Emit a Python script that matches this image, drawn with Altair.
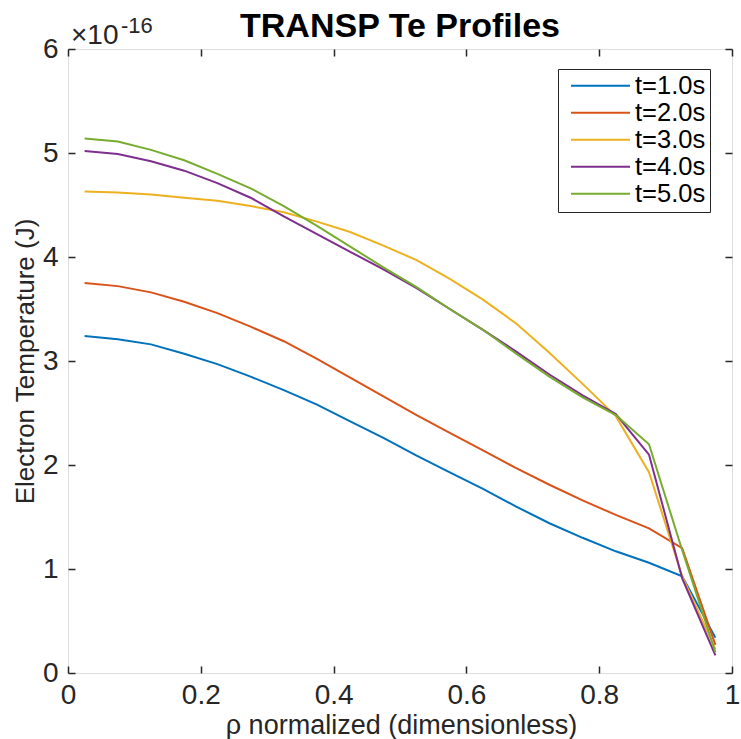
import altair as alt
import pandas as pd

rho = [0.025, 0.075, 0.125, 0.175, 0.225, 0.275, 0.325, 0.375, 0.425, 0.475,
       0.525, 0.575, 0.625, 0.675, 0.725, 0.775, 0.825, 0.875, 0.925, 0.975]

te_t1 = [3.24, 3.21, 3.16, 3.07, 2.97, 2.85, 2.72, 2.58, 2.42, 2.26,
         2.09, 1.93, 1.77, 1.60, 1.44, 1.30, 1.17, 1.06, 0.93, 0.34]
te_t2 = [3.75, 3.72, 3.66, 3.57, 3.46, 3.33, 3.19, 3.02, 2.84, 2.66,
         2.48, 2.31, 2.14, 1.97, 1.81, 1.66, 1.52, 1.39, 1.20, 0.27]
te_t3 = [4.63, 4.62, 4.60, 4.57, 4.54, 4.49, 4.43, 4.34, 4.24, 4.11,
         3.97, 3.79, 3.59, 3.36, 3.08, 2.78, 2.47, 1.93, 0.93, 0.23]
te_t4 = [5.02, 4.99, 4.92, 4.83, 4.71, 4.57, 4.39, 4.22, 4.05, 3.88,
         3.70, 3.50, 3.30, 3.09, 2.87, 2.67, 2.49, 2.10, 0.91, 0.17]
te_t5 = [5.14, 5.11, 5.03, 4.93, 4.80, 4.66, 4.49, 4.30, 4.10, 3.90,
         3.71, 3.50, 3.30, 3.07, 2.85, 2.65, 2.48, 2.20, 1.18, 0.20]

series_names = ["t=1.0s", "t=2.0s", "t=3.0s", "t=4.0s", "t=5.0s"]
series_colors = ["#0072BD", "#D95319", "#EDB120", "#7E2F8E", "#77AC30"]
x_ticks = [0, 0.2, 0.4, 0.6, 0.8, 1]
y_ticks = [0, 1, 2, 3, 4, 5, 6]
chart_title = ["TRANSP Te Profiles"]
exponent_base = ["×10"]
exponent_power = ["-16"]

rows = []
for name, vals in zip(series_names, [te_t1, te_t2, te_t3, te_t4, te_t5]):
    for r, v in zip(rho, vals):
        rows.append({"rho": r, "te": v, "series": name})
df = pd.DataFrame(rows)

FONT = "Liberation Sans"
DARK = "#262626"

xscale = alt.Scale(domain=[0, 1], nice=False, zero=False)
yscale = alt.Scale(domain=[0, 6], nice=False, zero=False)

base = alt.Chart(df)

lines = base.mark_line(strokeWidth=2).encode(
    x=alt.X("rho:Q", scale=xscale, axis=alt.Axis(
        orient="bottom", values=x_ticks, format="~g", ticks=False, tickSize=0,
        domain=False, grid=False, labelFlush=False, labelPadding=8,
        labelFontSize=28, labelColor=DARK, labelFont=FONT,
        title="ρ normalized (dimensionless)", titleFontSize=27, titleFont=FONT,
        titleFontWeight="normal", titleColor=DARK, titleX=333, titleY=60,
        titleBaseline="alphabetic", titleAlign="center")),
    y=alt.Y("te:Q", scale=yscale, axis=alt.Axis(
        orient="left", values=y_ticks, format="d", ticks=False, tickSize=0,
        domain=False, grid=False, labelFlush=False, labelPadding=10,
        labelFontSize=28, labelColor=DARK, labelFont=FONT,
        title="Electron Temperature (J)", titleFontSize=26, titleFont=FONT,
        titleFontWeight="normal", titleColor=DARK, titleX=-35, titleY=312,
        titleAngle=270, titleBaseline="alphabetic", titleAlign="center")),
    color=alt.Color("series:N", scale=alt.Scale(domain=series_names, range=series_colors),
                    legend=alt.Legend(
                        title=None, orient="none", legendX=490, legendY=20,
                        padding=4, strokeColor=DARK, fillColor="white",
                        symbolType="stroke", symbolSize=3481, symbolStrokeWidth=2,
                        clipHeight=25.3, rowPadding=-0.3, symbolOffset=8,
                        labelOffset=4, labelFontSize=25.5, labelFont=FONT,
                        labelColor="black", labelLimit=200)),
)

tick_axis = dict(labels=False, domain=False, grid=False, title=None,
                 tickSize=7, tickWidth=1.5, tickColor=DARK, offset=-7)

ticks_a = base.mark_line(opacity=0).encode(
    x=alt.X("rho:Q", scale=xscale, axis=alt.Axis(orient="bottom", values=x_ticks, **tick_axis)),
    y=alt.Y("te:Q", scale=yscale, axis=alt.Axis(orient="left", values=y_ticks, **tick_axis)),
)
ticks_b = base.mark_line(opacity=0).encode(
    x=alt.X("rho:Q", scale=xscale, axis=alt.Axis(orient="top", values=x_ticks, **tick_axis)),
    y=alt.Y("te:Q", scale=yscale, axis=alt.Axis(orient="right", values=y_ticks, **tick_axis)),
)

title_mark = alt.Chart(pd.DataFrame({"t": chart_title})).mark_text(
    align="center", baseline="alphabetic", fontSize=34, font=FONT,
    fontWeight="bold", color="black"
).encode(x=alt.value(332), y=alt.value(-12), text="t:N")

exp_main = alt.Chart(pd.DataFrame({"t": exponent_base})).mark_text(
    align="left", baseline="alphabetic", fontSize=28, font=FONT, color=DARK
).encode(x=alt.value(3), y=alt.value(-5), text="t:N")
exp_sup = alt.Chart(pd.DataFrame({"t": exponent_power})).mark_text(
    align="left", baseline="alphabetic", fontSize=22, font=FONT, color=DARK
).encode(x=alt.value(53), y=alt.value(-16), text="t:N")

chart = alt.layer(lines, ticks_a, ticks_b, title_mark, exp_main, exp_sup).resolve_axis(
    x="independent", y="independent"
).properties(
    width=664, height=624,
    autosize=alt.AutoSizeParams(type="none"),
    padding={"left": 68, "top": 49, "right": 9, "bottom": 66},
).configure_view(stroke=DARK, strokeWidth=1.5).configure(background="white")

chart.save("out.html", embed_options={"renderer": "svg", "actions": False})
